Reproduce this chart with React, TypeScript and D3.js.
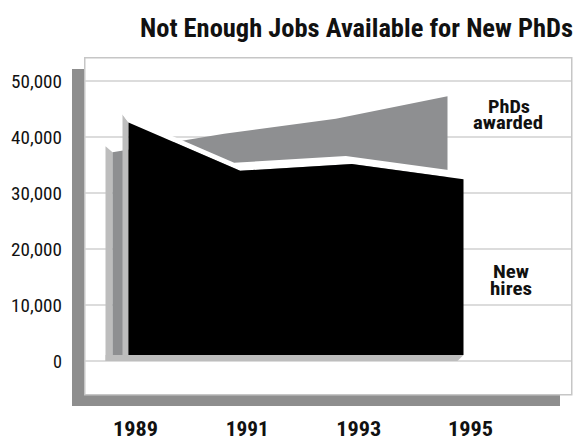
import React from "react";
import * as d3 from "d3";

const years = [1989, 1991, 1993, 1995];
const phdsAwarded = [36200, 39500, 42200, 46200];
const newHires = [41500, 32900, 34100, 31400];
const yTicks = [0, 10000, 20000, 30000, 40000, 50000];
const title = "Not Enough Jobs Available for New PhDs";

const W = 575;
const H = 440;
const FONT = "'Liberation Sans Narrow', 'Arial Narrow', 'Roboto Condensed', 'Liberation Sans', sans-serif";

export default function App() {
  const x = d3.scalePoint<number>().domain(years).range([135.5, 470.5]);
  const y = d3.scaleLinear().domain([0, 50000]).range([361, 81]);
  const LIFT = 6;
  const FRONT_DX = -7;
  const BACK_DX = -23;
  const TOP_DX = -6;
  const TOP_DY = -8;
  const SIDE_DX = -7;
  const SIDE_DY = -6;
  const base = y(0);

  const area = (dx: number) =>
    d3
      .area<number>()
      .x((_, i) => (x(years[i]) as number) + dx)
      .y0(base - LIFT)
      .y1((v) => y(v) - LIFT);

  const grayPts = phdsAwarded.map((v, i) => [(x(years[i]) as number) + BACK_DX, y(v) - LIFT]);
  const blackPts = newHires.map((v, i) => [(x(years[i]) as number) + FRONT_DX, y(v) - LIFT]);

  const poly = (pts: number[][]) => pts.map((p) => p.join(",")).join(" ");

  const g0 = grayPts[0];
  const b0 = blackPts[0];
  const bN = blackPts[blackPts.length - 1];

  const graySide = [
    [g0[0] + SIDE_DX, g0[1] + SIDE_DY],
    [g0[0], g0[1]],
    [g0[0], base],
    [g0[0] + SIDE_DX, base],
  ];
  const floor = [
    [g0[0] + SIDE_DX, base - LIFT],
    [bN[0], base - LIFT],
    [bN[0] - LIFT, base],
    [g0[0] + SIDE_DX, base],
  ];
  const blackSide = [
    [b0[0] + TOP_DX, b0[1] + TOP_DY],
    [b0[0], b0[1]],
    [b0[0], base],
    [b0[0] + TOP_DX, base],
  ];
  const topFace = [
    ...blackPts,
    ...blackPts.slice().reverse().map((p) => [p[0] + TOP_DX, p[1] + TOP_DY]),
  ];

  const fmt = d3.format(",");
  const xLabelW = [45, 43, 45, 45];

  return (
    <svg width={W} height={H} style={{ position: "absolute", left: 0, top: 0 }}>
      <rect x={0} y={0} width={W} height={H} fill="#fff" />
      <text
        x={140}
        y={36.5}
        fontFamily={FONT}
        fontWeight="bold"
        fontSize={25}
        textLength={433}
        lengthAdjust="spacingAndGlyphs"
        fill="#111"
      >
        {title}
      </text>
      {/* shadow and panel */}
      <rect x={72} y={69} width={488} height={337} fill="#8e8e8e" />
      <rect x={84.75} y={57.75} width={487} height={337} fill="#fff" stroke="#c6c6c6" strokeWidth={1.5} />
      {/* gridlines */}
      {yTicks.map((t) => (
        <line key={t} x1={85} x2={571} y1={y(t)} y2={y(t)} stroke="#d0d0d0" strokeWidth={1.5} />
      ))}
      {/* y labels */}
      {yTicks.map((t) => (
        <text
          key={"l" + t}
          x={62}
          y={y(t) + 7}
          textAnchor="end"
          fontFamily={FONT}
          fontSize={18}
          textLength={t === 0 ? 9 : 51}
          lengthAdjust="spacingAndGlyphs"
          fill="#111"
        >
          {fmt(t)}
        </text>
      ))}
      {/* 3D areas */}
      <polygon points={poly(graySide)} fill="#bdbdbd" />
      <polygon points={poly(floor)} fill="#bdbdbd" />
      <path d={area(BACK_DX)(phdsAwarded) || ""} fill="#8e8f91" />
      <polygon points={poly(blackSide)} fill="#bdbdbd" />
      <polygon points={poly(topFace)} fill="#ffffff" />
      <path d={area(FRONT_DX)(newHires) || ""} fill="#000" />
      {/* x labels */}
      {years.map((yr, i) => (
        <text
          key={yr}
          x={x(yr)}
          y={436}
          textAnchor="middle"
          fontFamily={FONT}
          fontWeight="bold"
          fontSize={21}
          textLength={xLabelW[i]}
          lengthAdjust="spacingAndGlyphs"
          fill="#111"
        >
          {yr}
        </text>
      ))}
      {/* series labels */}
      <g fontFamily={FONT} fontWeight="bold" fontSize={18} fill="#111" textAnchor="middle">
        <text x={509} y={113} textLength={42} lengthAdjust="spacingAndGlyphs">PhDs</text>
        <text x={508} y={129} textLength={70} lengthAdjust="spacingAndGlyphs">awarded</text>
        <text x={511} y={278} textLength={36} lengthAdjust="spacingAndGlyphs">New</text>
        <text x={511} y={295} textLength={42} lengthAdjust="spacingAndGlyphs">hires</text>
      </g>
    </svg>
  );
}
